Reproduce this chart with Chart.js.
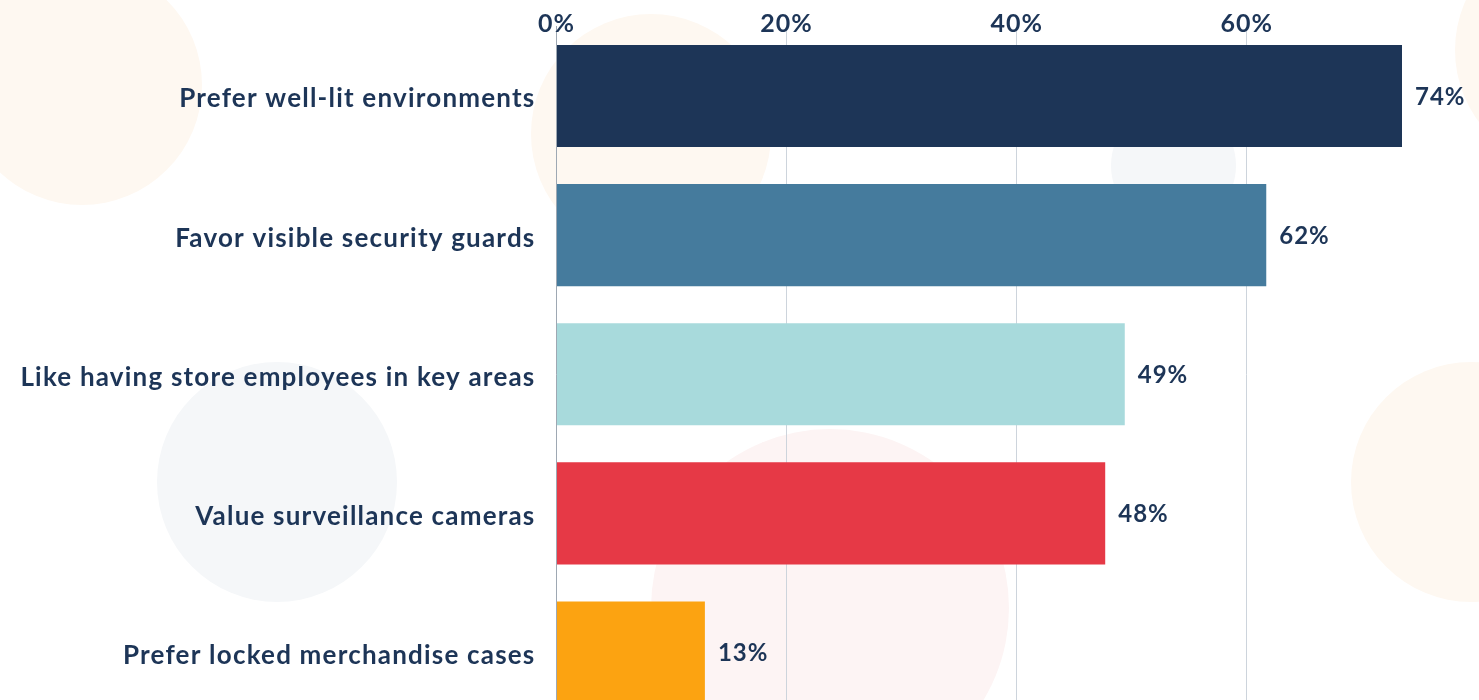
<!DOCTYPE html>
<html>
<head>
<meta charset="utf-8">
<script src="https://cdn.jsdelivr.net/npm/chart.js@4.4.1/dist/chart.umd.min.js"></script>
<style>
  html, body { margin: 0; padding: 0; background: #ffffff; overflow: hidden; }
  #wrap { position: relative; width: 1479px; height: 722px; }
  .circle { position: absolute; border-radius: 50%; }
  #c { position: absolute; left: 0; top: 0; }
</style>
</head>
<body>
<div id="wrap">
  <div class="circle" style="left:-38px; top:-35px; width:240px; height:240px; background:#fef8f1;"></div>
  <div class="circle" style="left:531px; top:14px; width:240px; height:240px; background:#fef8f1;"></div>
  <div class="circle" style="left:1111px; top:103px; width:125px; height:125px; background:#f5f7f9;"></div>
  <div class="circle" style="left:1455px; top:-70px; width:240px; height:240px; background:#fef8f1;"></div>
  <div class="circle" style="left:157px; top:362px; width:240px; height:240px; background:#f5f7f9;"></div>
  <div class="circle" style="left:651px; top:429px; width:358px; height:358px; background:#fdf4f4;"></div>
  <div class="circle" style="left:1351px; top:362px; width:240px; height:240px; background:#fef8f1;"></div>
  <canvas id="c" width="1479" height="722"></canvas>
</div>
<script>
const categories = [
  "Prefer well-lit environments",
  "Favor visible security guards",
  "Like having store employees in key areas",
  "Value surveillance cameras",
  "Prefer locked merchandise cases"
];
const values = [73.5, 61.7, 49.4, 47.7, 12.9];
const valueLabels = ["74%", "62%", "49%", "48%", "13%"];
const tickValues = [0, 20, 40, 60];
const barColors = ["#1d3557", "#457b9d", "#a8dadc", "#e63946", "#fca311"];

const textColor = "#1d3557";
const FONT = "Lato, 'Open Sans', sans-serif";

const spacingPlugin = {
  id: "spacing",
  beforeDraw(chart) { chart.ctx.letterSpacing = "1.2px"; }
};

// Draws the top x-axis tick labels at the scale's own tick pixels (unclipped)
const topTickPlugin = {
  id: "topTicks",
  afterDraw(chart) {
    const ctx = chart.ctx;
    const xs = chart.scales.x;
    ctx.save();
    ctx.letterSpacing = "1px";
    ctx.font = "bold 25px " + FONT;
    ctx.fillStyle = textColor;
    ctx.textAlign = "center";
    ctx.textBaseline = "alphabetic";
    xs.ticks.forEach((t, i) => {
      ctx.fillText(t.value + "%", xs.getPixelForTick(i), 32);
    });
    ctx.restore();
  }
};

const valueLabelPlugin = {
  id: "valueLabels",
  afterDatasetsDraw(chart) {
    const ctx = chart.ctx;
    const meta = chart.getDatasetMeta(0);
    ctx.save();
    ctx.letterSpacing = "1px";
    ctx.font = "bold 24px " + FONT;
    ctx.fillStyle = textColor;
    ctx.textAlign = "left";
    ctx.textBaseline = "middle";
    meta.data.forEach((bar, i) => {
      ctx.fillText(valueLabels[i], bar.x + 13, bar.y + 1);
    });
    ctx.restore();
  }
};

new Chart(document.getElementById("c"), {
  type: "bar",
  data: {
    labels: categories,
    datasets: [{
      data: values,
      backgroundColor: barColors,
      borderWidth: 0,
      categoryPercentage: 1,
      barPercentage: 0.734
    }]
  },
  options: {
    indexAxis: "y",
    responsive: false,
    animation: false,
    layout: { padding: { left: 0, right: 77, top: 0, bottom: 0 } },
    plugins: {
      legend: { display: false },
      tooltip: { enabled: false }
    },
    scales: {
      x: {
        position: "top",
        min: 0,
        max: Math.max(...values),
        afterFit(scale) { scale.height = 26.5; scale.paddingLeft = 0; scale.paddingRight = 0; },
        afterBuildTicks(scale) { scale.ticks = tickValues.map(v => ({ value: v })); },
        ticks: {
          display: false,
          includeBounds: false
        },
        grid: { display: true, color: "#cdd4dc", lineWidth: 1, drawTicks: false },
        border: { display: false }
      },
      y: {
        afterFit(scale) { scale.width = 556.5; scale.paddingTop = 0; scale.paddingBottom = 0; },
        ticks: {
          padding: 21,
          labelOffset: 3,
          color: textColor,
          font: { family: FONT, size: 26, weight: "bold" }
        },
        grid: { display: false, drawTicks: false },
        border: { display: true, color: "#9ea8b3", width: 1 }
      }
    }
  },
  plugins: [spacingPlugin, topTickPlugin, valueLabelPlugin]
});
</script>
</body>
</html>
